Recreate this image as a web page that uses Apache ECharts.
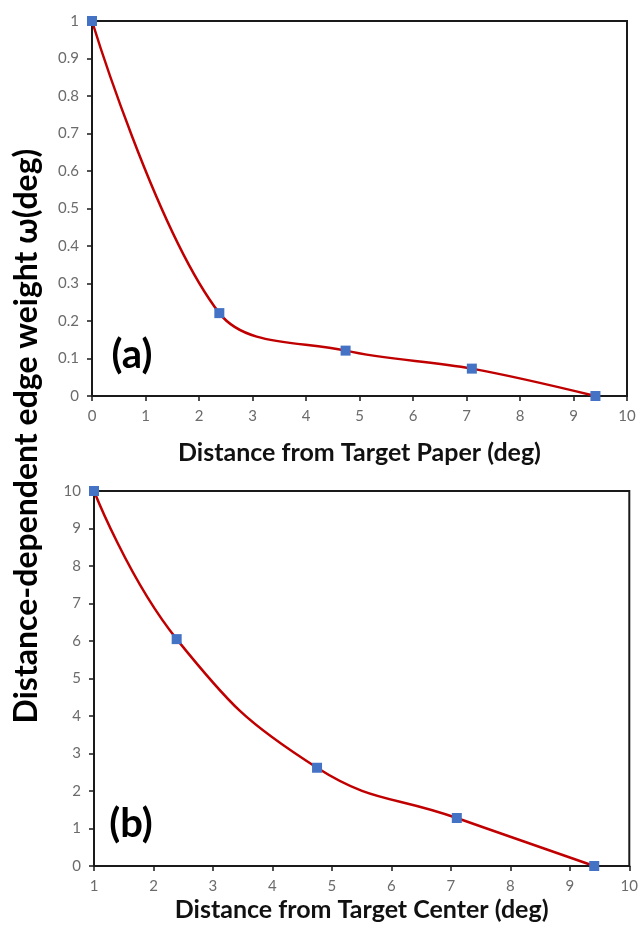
<!DOCTYPE html>
<html>
<head>
<meta charset="utf-8">
<script src="https://cdn.jsdelivr.net/npm/echarts@6/dist/echarts.min.js"></script>
<style>
  html, body { margin: 0; padding: 0; background: #fff; }
  #chart { width: 641px; height: 930px; }
</style>
</head>
<body>
<div id="chart"></div>
<script>
// panel (a): distance from target paper
const paperX = [0, 2.38, 4.74, 7.1, 9.41];
const paperW = [1, 0.221, 0.121, 0.073, 0];
// panel (b): distance from target center
const centerX = [1, 2.39, 4.75, 7.1, 9.41];
const centerW = [10, 6.05, 2.62, 1.28, 0];

const LINE_RED = '#c00000';
const MARK_BLUE = '#4472c4';
const LABEL_GREY = '#6b6b6b';
const FONT = 'Lato, "Open Sans", sans-serif';

const zip = (xs, ys) => xs.map((x, i) => [x, ys[i]]);

function axisCommon() {
  return {
    axisLine: { show: true, onZero: false, lineStyle: { color: '#1a1a1a', width: 2 } },
    axisTick: { show: true, inside: false, length: 5, lineStyle: { color: '#1a1a1a', width: 1.5 } },
    splitLine: { show: false },
    axisLabel: { color: LABEL_GREY, fontFamily: FONT, fontSize: 15, margin: 13 },
  };
}

function lineSeries(idx, data, smooth) {
  return {
    type: 'line',
    xAxisIndex: idx,
    yAxisIndex: idx,
    data: data,
    smooth: smooth,
    symbol: 'rect',
    symbolSize: 10,
    lineStyle: { color: LINE_RED, width: 2.5 },
    itemStyle: { color: MARK_BLUE, borderWidth: 0 },
    z: 3,
  };
}

const titleStyle = { color: '#111', fontFamily: FONT, fontWeight: 'bold', fontSize: 25 };

const chart = echarts.init(document.getElementById('chart'), null, { renderer: 'canvas' });

chart.setOption({
  animation: false,
  backgroundColor: '#fff',
  grid: [
    { left: 92, top: 21, width: 535, height: 375, show: true, borderColor: '#1a1a1a', borderWidth: 2, backgroundColor: 'transparent' },
    { left: 94, top: 491, width: 537, height: 375, show: true, borderColor: '#1a1a1a', borderWidth: 2, backgroundColor: 'transparent' },
  ],
  xAxis: [
    Object.assign(axisCommon(), {
      type: 'value', gridIndex: 0, min: 0, max: 10, interval: 1,
      name: 'Distance from Target Paper (deg)', nameLocation: 'middle', nameGap: 44,
      nameTextStyle: titleStyle,
    }),
    Object.assign(axisCommon(), {
      type: 'value', gridIndex: 1, min: 1, max: 10, interval: 1,
      name: 'Distance from Target Center (deg)', nameLocation: 'middle', nameGap: 31,
      nameTextStyle: titleStyle,
    }),
  ],
  yAxis: [
    Object.assign(axisCommon(), { type: 'value', gridIndex: 0, min: 0, max: 1, interval: 0.1 }),
    Object.assign(axisCommon(), { type: 'value', gridIndex: 1, min: 0, max: 10, interval: 1 }),
  ],
  series: [
    lineSeries(0, zip(paperX, paperW), 0.35),
    lineSeries(1, zip(centerX, centerW), 0.45),
  ],
  graphic: [
    {
      type: 'text', x: 27, y: 436, rotation: Math.PI / 2,
      style: {
        text: 'Distance-dependent edge weight ω(deg)',
        fontFamily: FONT, fontWeight: 'bold', fontSize: 32, fill: '#000',
        textAlign: 'center', textVerticalAlign: 'middle',
      },
    },
    {
      type: 'text', x: 132, y: 355,
      style: { text: '(a)', fontFamily: FONT, fontWeight: 'bold', fontSize: 40, fill: '#000', textAlign: 'center', textVerticalAlign: 'middle' },
    },
    {
      type: 'text', x: 131, y: 824,
      style: { text: '(b)', fontFamily: FONT, fontWeight: 'bold', fontSize: 40, fill: '#000', textAlign: 'center', textVerticalAlign: 'middle' },
    },
  ],
});
</script>
</body>
</html>
